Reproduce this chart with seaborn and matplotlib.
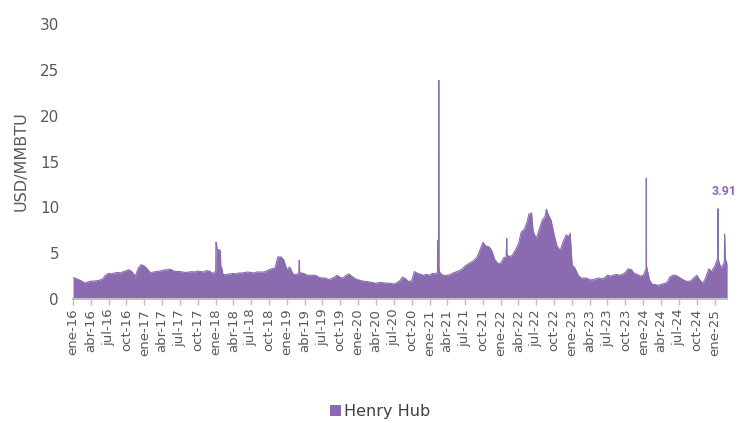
import pandas as pd
import matplotlib.pyplot as plt
import seaborn as sns

# Henry Hub spot price, USD/MMBTU
# semi-monthly values (1st and 15th of each month)
v2016 = [2.35, 2.25, 2.1, 1.95, 1.75, 1.85, 1.95, 1.95, 2.0, 2.05, 2.2, 2.6,
         2.8, 2.75, 2.85, 2.9, 2.85, 3.0, 3.1, 3.2, 2.9, 2.5, 3.4, 3.75]
v2017 = [3.6, 3.3, 2.85, 2.95, 3.0, 3.05, 3.1, 3.2, 3.2, 3.25, 3.05, 3.0,
         3.0, 2.95, 2.9, 2.95, 3.0, 2.95, 3.05, 3.0, 2.95, 3.1, 3.05, 2.8]
v2018 = [3.0, 5.4, 3.4, 2.65, 2.7, 2.75, 2.8, 2.75, 2.85, 2.85, 2.9, 2.95,
         2.9, 2.85, 2.95, 2.95, 2.95, 3.0, 3.2, 3.3, 3.4, 4.6, 4.6, 4.3]
v2019 = [3.2, 3.5, 2.75, 2.65, 2.8, 2.85, 2.75, 2.6, 2.6, 2.6, 2.55, 2.35,
         2.3, 2.3, 2.15, 2.2, 2.4, 2.6, 2.35, 2.3, 2.6, 2.75, 2.45, 2.25]
v2020 = [2.1, 2.0, 1.95, 1.9, 1.85, 1.8, 1.7, 1.8, 1.8, 1.75, 1.75, 1.7,
         1.65, 1.75, 2.0, 2.4, 2.2, 1.9, 2.0, 3.0, 2.8, 2.7, 2.6, 2.7]
v2021 = [2.6, 2.8, 2.75, 6.4, 2.75, 2.55, 2.6, 2.65, 2.85, 2.95, 3.1, 3.25,
         3.6, 3.8, 4.0, 4.2, 4.6, 5.3, 6.2, 5.8, 5.7, 5.3, 4.3, 3.9]
v2022 = [3.9, 4.5, 4.9, 4.6, 4.8, 5.3, 6.0, 7.3, 7.6, 8.4, 9.3, 7.4,
         6.6, 7.5, 8.6, 9.0, 9.2, 8.6, 7.0, 5.8, 5.3, 6.2, 7.0, 6.8]
v2023 = [3.7, 3.4, 2.6, 2.3, 2.3, 2.3, 2.1, 2.1, 2.2, 2.3, 2.2, 2.3,
         2.6, 2.5, 2.6, 2.7, 2.6, 2.7, 2.9, 3.3, 3.2, 2.8, 2.7, 2.5]
v2024 = [2.6, 3.3, 2.1, 1.6, 1.6, 1.5, 1.6, 1.7, 1.8, 2.4, 2.6, 2.6,
         2.4, 2.2, 2.0, 1.9, 2.0, 2.3, 2.6, 2.1, 1.7, 2.3, 3.3, 3.0]
v2025 = [3.6, 4.4, 3.4, 3.8, 4.1]

# short-lived spikes and the last quote
extra_dates = ['2018-01-02', '2018-01-05', '2018-01-08', '2018-01-25', '2018-01-27', '2018-02-07',
               '2019-03-03', '2019-03-04', '2019-03-06', '2019-03-07',
               '2021-02-10', '2021-02-11', '2021-02-16', '2021-02-17', '2021-02-18', '2021-02-22',
               '2022-01-28', '2022-01-31', '2022-02-03', '2022-05-25', '2022-06-07', '2022-08-22',
               '2022-12-22',
               '2024-01-16', '2024-01-17',
               '2025-01-16', '2025-01-17', '2025-01-20', '2025-02-19', '2025-02-20', '2025-02-24',
               '2025-03-05']
extra_values = [6.2, 6.1, 5.4, 5.3, 3.6, 2.7,
                2.85, 4.2, 4.1, 2.9,
                2.9, 6.4, 6.5, 23.86, 3.3, 2.9,
                4.6, 6.6, 4.8, 9.3, 9.4, 9.8,
                7.2,
                13.2, 3.6,
                4.4, 9.86, 4.2, 4.2, 7.1, 4.3,
                3.91]

tick_months = ['ene', 'abr', 'jul', 'oct']
last_label = '3.91'

purple = '#8B6BAF'
grey = '#595959'

base = pd.DataFrame({'fecha': pd.date_range('2016-01-01', '2025-03-01', freq='SMS'),
                     'precio': v2016 + v2017 + v2018 + v2019 + v2020 + v2021 + v2022 + v2023 + v2024 + v2025})
extra = pd.DataFrame({'fecha': pd.to_datetime(extra_dates), 'precio': extra_values})
df = pd.concat([base, extra]).sort_values('fecha').reset_index(drop=True)

sns.set_theme(style='white')
plt.rcParams['font.family'] = ['DejaVu Sans']

fig, ax = plt.subplots(figsize=(7.45, 4.23), dpi=100)
fig.subplots_adjust(left=0.098, right=0.976, bottom=0.293, top=0.943)

sns.lineplot(data=df, x='fecha', y='precio', color=purple, linewidth=0.8, ax=ax)
ax.fill_between(df['fecha'], df['precio'], color=purple, linewidth=0, label='Henry Hub')

# quarterly ticks with Spanish month names
tick_dates = pd.date_range('2016-01-01', '2025-01-01', freq='QS')
tick_labels = [f"{tick_months[(d.month - 1) // 3]}-{d.strftime('%y')}" for d in tick_dates]
ax.set_xticks(tick_dates)
ax.set_xticklabels(tick_labels, rotation=90)

ax.set_xlim(df['fecha'].min(), df['fecha'].max())
ax.set_ylim(0, 30)
ax.set_yticks(range(0, 31, 5))

for s in ['top', 'right', 'left']:
    ax.spines[s].set_visible(False)
ax.spines['bottom'].set_color('#BFBFBF')
ax.spines['bottom'].set_linewidth(1.5)

ax.tick_params(axis='x', bottom=True, length=4, width=1, color='#BFBFBF',
               labelsize=9.5, labelcolor=grey, pad=3)
ax.tick_params(axis='y', length=0, labelsize=11, labelcolor=grey, pad=10)

ax.set_xlabel('')
ax.set_ylabel('USD/MMBTU', fontsize=11.5, color=grey, labelpad=8)

ax.annotate(last_label, xy=(df['fecha'].iloc[-1], 11.7), xytext=(-2, 0),
            textcoords='offset points', ha='center', va='center',
            fontsize=9, fontweight='bold', color=purple, family=['Roboto', 'DejaVu Sans'])

ax.legend(loc='lower center', bbox_to_anchor=(0.51, -0.025), bbox_transform=fig.transFigure,
          frameon=False, fontsize=11.5, handlelength=0.7, handleheight=0.7,
          handletextpad=0.2, labelcolor='#404040')

plt.savefig('out.png', dpi=100)
